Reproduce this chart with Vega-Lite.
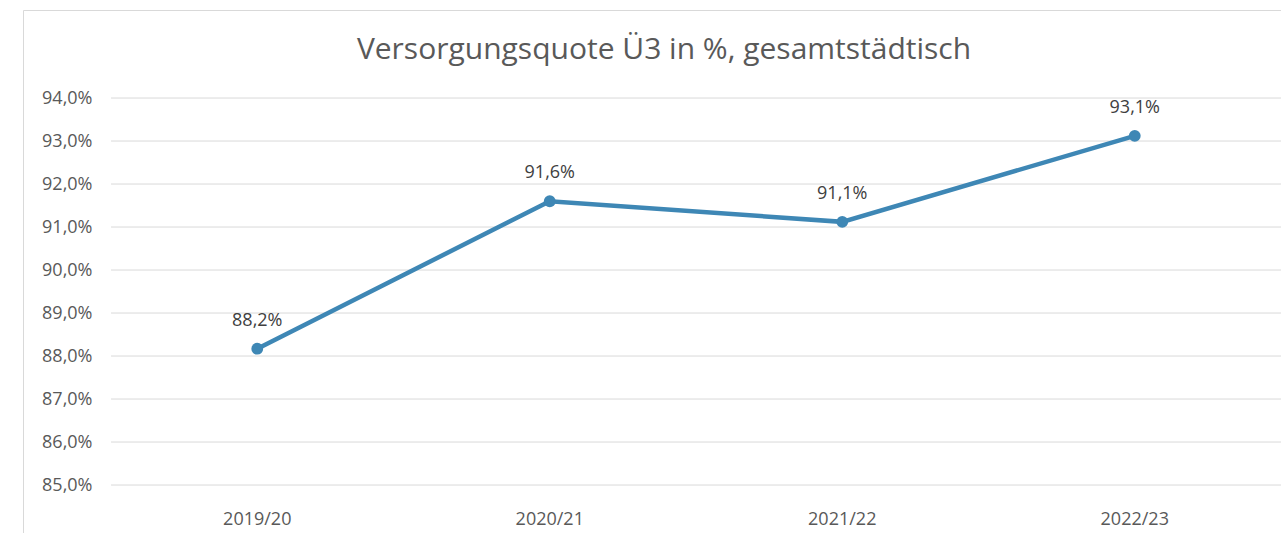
{
  "$schema": "https://vega.github.io/schema/vega-lite/v6.json",
  "autosize": {"type": "none"},
  "padding": {"left": 23, "top": 10, "right": 0, "bottom": 0},
  "width": 1262,
  "height": 535,
  "background": "white",
  "config": {"view": {"stroke": "#d9d9d9", "strokeWidth": 1}, "font": "Open Sans"},
  "title": {
    "text": "Versorgungsquote Ü3 in %, gesamtstädtisch",
    "fontSize": 30,
    "fontWeight": "normal",
    "color": "#595959",
    "font": "Open Sans",
    "anchor": "middle",
    "frame": "group",
    "offset": -55,
    "dx": 10
  },
  "datasets": {
    "main": [
      {"jahr": "2019/20", "quote": 88.17},
      {"jahr": "2020/21", "quote": 91.6},
      {"jahr": "2021/22", "quote": 91.12},
      {"jahr": "2022/23", "quote": 93.12}
    ],
    "grid": [
      {"v": 85}, {"v": 86}, {"v": 87}, {"v": 88}, {"v": 89},
      {"v": 90}, {"v": 91}, {"v": 92}, {"v": 93}, {"v": 94}
    ]
  },
  "layer": [
    {
      "data": {"name": "grid"},
      "mark": {"type": "rule", "color": "#d9d9d9", "strokeWidth": 1},
      "encoding": {
        "x": {"datum": "2019/20", "bandPosition": 0, "type": "nominal",
              "scale": {"type": "band", "paddingInner": 0, "paddingOuter": 0.1573, "align": 0.9565}},
        "x2": {"datum": "2022/23", "bandPosition": 1},
        "y": {"field": "v", "type": "quantitative",
              "scale": {"domain": [83.605, 96.047], "nice": false, "zero": false},
              "axis": {
                "values": [85, 86, 87, 88, 89, 90, 91, 92, 93, 94],
                "grid": false, "domain": false, "ticks": false, "tickSize": 0,
                "labelPadding": -69,
                "labelExpr": "replace(format(datum.value,'.1f'),'.',',') + '%'",
                "labelFontSize": 18, "labelColor": "#595959", "labelFont": "Open Sans",
                "title": null
              }}
      }
    },
    {
      "data": {"name": "main"},
      "mark": {"type": "line", "color": "#3e87b5", "strokeWidth": 4.5},
      "encoding": {
        "x": {"field": "jahr", "type": "nominal",
              "scale": {"type": "band", "paddingInner": 0, "paddingOuter": 0.1573, "align": 0.9565},
              "axis": {"orient": "bottom", "offset": -39, "domain": false, "ticks": false, "labelPadding": 4,
                       "bandPosition": 0.5, "labelAlign": "center", "labelBaseline": "top",
                       "labelFontSize": 18, "labelColor": "#595959", "labelFont": "Open Sans", "labelAngle": 0, "title": null}},
        "y": {"field": "quote", "type": "quantitative"}
      }
    },
    {
      "data": {"name": "main"},
      "mark": {"type": "point", "filled": true, "opacity": 1, "size": 140, "color": "#3e87b5"},
      "encoding": {
        "x": {"field": "jahr", "type": "nominal"},
        "y": {"field": "quote", "type": "quantitative"}
      }
    },
    {
      "data": {"name": "main"},
      "transform": [
        {"calculate": "replace(format(datum.quote,'.1f'),'.',',') + '%'", "as": "label"}
      ],
      "mark": {"type": "text", "fontSize": 18, "color": "#404040", "font": "Open Sans", "baseline": "alphabetic", "dy": -23},
      "encoding": {
        "x": {"field": "jahr", "type": "nominal"},
        "y": {"field": "quote", "type": "quantitative"},
        "text": {"field": "label", "type": "nominal"}
      }
    }
  ]
}
